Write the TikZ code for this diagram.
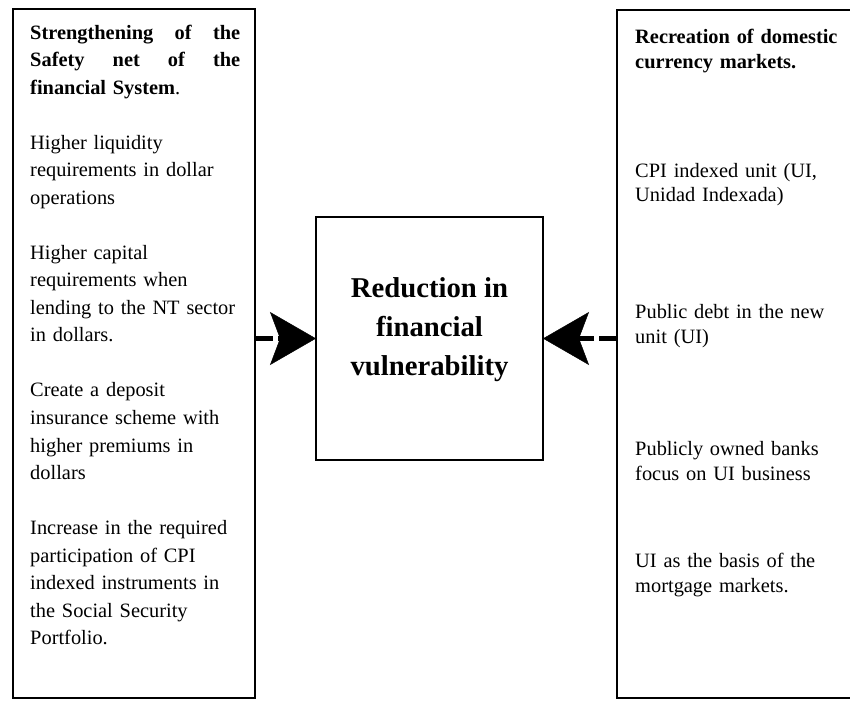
\documentclass[tikz,border=0pt]{standalone}
\usepackage{fontspec}
\setmainfont{Liberation Serif}
\usetikzlibrary{positioning,arrows.meta}
\tikzset{>={Stealth[length=1.38cm,width=1.59cm,inset=0.3cm,line width=0.4pt]}}
\tikzset{
  panel/.style={draw, rectangle, line width=2.1pt, inner sep=0pt, outer sep=0pt},
  lefttxt/.style={inner sep=0pt, text width=6.8cm, align=left, font=\fontsize{17.4}{23.5}\selectfont},
  righttxt/.style={inner sep=0pt, text width=6.8cm, align=left, font=\fontsize{17.4}{21.3}\selectfont},
  flow/.style={->, line width=0.15cm, dash pattern=on 0.54cm off 0.15cm}
}
\newcommand{\spreadhead}[3]{\makebox[6.3cm][l]{\bfseries #1\hfill #2\hfill #3}}

\begin{document}
\begin{tikzpicture}
      \useasboundingbox (0,0) rectangle (25.5,21);
      \clip (0,0) rectangle (25.5,21);
      % the three boxes
      \node[panel, minimum width=7.26cm, minimum height=20.67cm] (lbox) at (4.02,10.395) {};
      \node[panel, minimum width=7.89cm, minimum height=20.64cm] (rbox) at (22.455,10.38) {};
      \node[panel, line width=1.7pt, minimum width=6.81cm, minimum height=7.29cm, align=center, font=\fontsize{24.5}{33.3}\selectfont\bfseries] (cbox) at (12.885,10.845) {Reduction in\\ financial\\ vulnerability\rule[-0.7cm]{0pt}{0pt}};
      % left column
      \node[lefttxt, below right=0.465cm and 0.51cm of lbox.north west] (safety) {\spreadhead{Strengthening}{of}{the}\\
        \spreadhead{Safety}{net}{of\hfill the}\\
        \textbf{financial System}.\\[23.5pt]
        Higher liquidity\\ requirements in dollar\\ operations\\[23.5pt]
        Higher capital\\ requirements when\\ lending to the NT sector\\ in dollars.\\[23.5pt]
        Create a deposit\\ insurance scheme with\\ higher premiums in\\ dollars\\[23.5pt]
        Increase in the required\\ participation of CPI\\ indexed instruments in\\ the Social Security\\ Portfolio.};
      % right column
      \node[righttxt, below right=0.555cm and 0.54cm of rbox.north west] (recr) {\bfseries Recreation of domestic\\ currency markets.};
      \node[righttxt, below right=4.58cm and 0.54cm of rbox.north west] (ui) {CPI indexed unit (UI,\\ Unidad Indexada)};
      \node[righttxt, below right=8.81cm and 0.54cm of rbox.north west] (debt) {Public debt in the new\\ unit (UI)};
      \node[righttxt, below right=12.92cm and 0.54cm of rbox.north west] (banks) {Publicly owned banks\\ focus on UI business};
      \node[righttxt, below right=16.28cm and 0.54cm of rbox.north west] (mortg) {UI as the basis of the\\ mortgage markets.};
      \draw[flow] (cbox.west -| lbox.east) -- (cbox.west);
      \draw[flow] (cbox.east -| rbox.west) -- (cbox.east);
    \end{tikzpicture}
\end{document}
